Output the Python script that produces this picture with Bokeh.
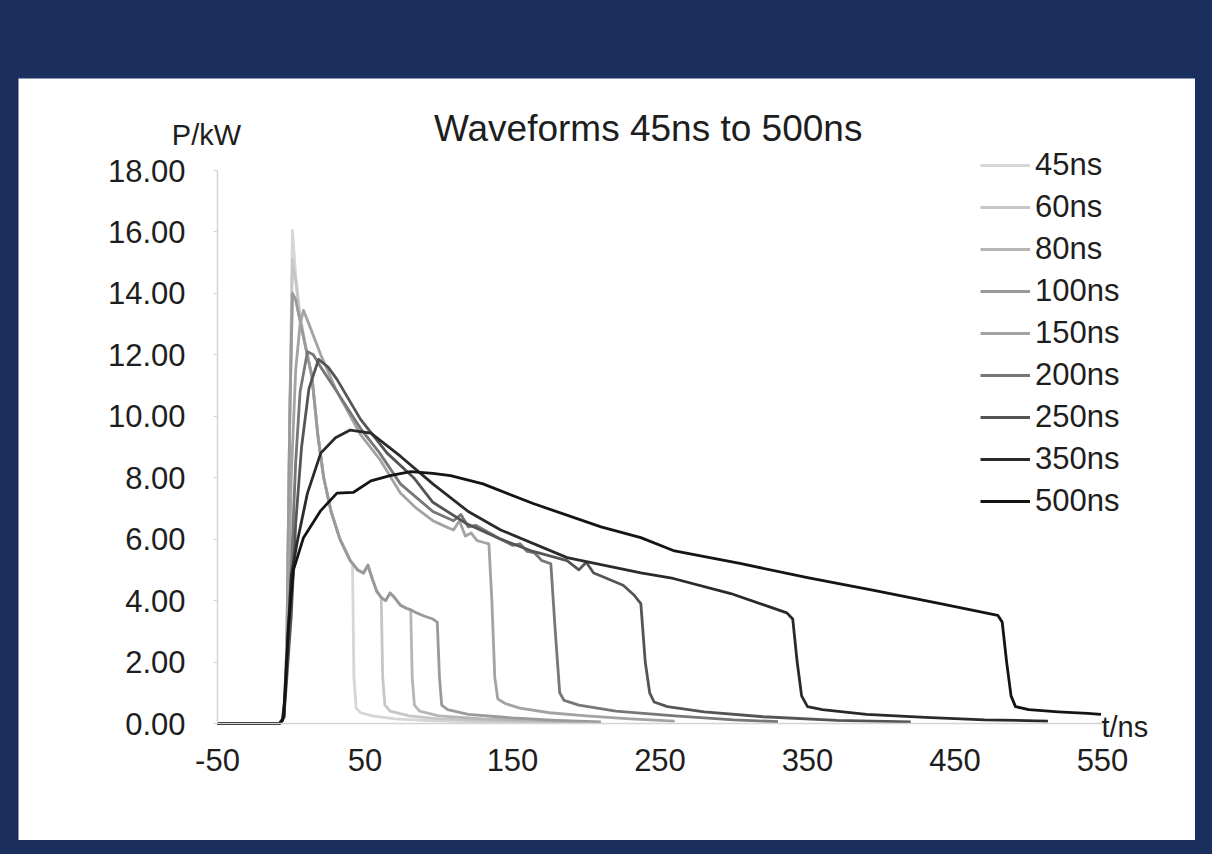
from bokeh.plotting import figure
from bokeh.models import FixedTicker, NumeralTickFormatter, Label, Range1d
from bokeh.layouts import column
from bokeh.embed import file_html
from bokeh.resources import INLINE

# ---------------- data ----------------
series_names = ["45ns", "60ns", "80ns", "100ns", "150ns", "200ns", "250ns", "350ns", "500ns"]

t_45 = [-50, -8, -5, -3, -1, 0.8, 3, 6, 10, 14, 18, 22, 27, 33, 40, 41.5, 42.5, 44, 47, 55, 70, 90, 120, 150]
p_45 = [0, 0, 0.2, 2.5, 10, 16.05, 14.6, 13.3, 12.2, 11.3, 9.4, 8.0, 6.9, 6.0, 5.3, 5.2, 1.5, 0.5, 0.35, 0.25, 0.15, 0.1, 0.05, 0.03]

t_60 = [-50, -8, -5, -3, -1, 0.8, 3, 6, 10, 14, 18, 22, 27, 33, 40, 45, 49, 52, 55, 58, 61, 62, 63.5, 67, 80, 100, 140, 180]
p_60 = [0, 0, 0.2, 2.5, 10, 15.1, 14.4, 13.2, 12.2, 11.3, 9.4, 8.0, 6.9, 6.0, 5.3, 5.0, 4.9, 5.15, 4.7, 4.3, 4.1, 1.5, 0.6, 0.4, 0.25, 0.15, 0.08, 0.04]

t_80 = [-50, -8, -5, -3, -1, 0.8, 3, 6, 10, 14, 18, 22, 27, 33, 40, 45, 49, 52, 55, 58, 61, 64, 67, 70, 74, 78, 81, 82, 83.5, 87, 100, 130, 170, 200]
p_80 = [0, 0, 0.2, 2.5, 10, 14.0, 13.8, 13.1, 12.2, 11.3, 9.4, 8.0, 6.9, 6.0, 5.3, 5.0, 4.9, 5.15, 4.7, 4.3, 4.1, 4.0, 4.25, 4.1, 3.85, 3.75, 3.7, 1.5, 0.6, 0.4, 0.25, 0.15, 0.08, 0.04]

t_100 = [-50, -8, -5, -3, -1, 0.8, 3, 6, 10, 14, 18, 22, 27, 33, 40, 45, 49, 52, 55, 58, 61, 64, 67, 70, 74, 78, 81, 85, 90, 96, 99, 100.5, 102, 106, 120, 150, 180, 210]
p_100 = [0, 0, 0.2, 2.5, 10, 14.0, 13.8, 13.1, 12.2, 11.3, 9.4, 8.0, 6.9, 6.0, 5.3, 5.0, 4.9, 5.15, 4.7, 4.3, 4.1, 4.0, 4.25, 4.1, 3.85, 3.75, 3.7, 3.6, 3.5, 3.4, 3.3, 1.5, 0.6, 0.45, 0.3, 0.18, 0.1, 0.05]

t_150 = [-50, -8, -5, -3, 0, 3, 6, 8.3, 12, 20, 31, 47, 60, 74, 85, 96, 105, 110, 114, 118, 122, 126, 130, 134, 136, 138, 140, 145, 155, 175, 200, 230, 260]
p_150 = [0, 0, 0.2, 2, 8, 11.5, 13.0, 13.45, 13.0, 12.0, 10.8, 9.4, 8.6, 7.5, 7.0, 6.6, 6.4, 6.3, 6.6, 6.1, 6.2, 5.95, 5.9, 5.85, 4.0, 1.5, 0.8, 0.65, 0.5, 0.35, 0.25, 0.15, 0.08]

t_200 = [-50, -8, -5, -3, 0, 3, 6, 11, 15, 20, 31, 47, 60, 74, 96, 110, 115, 120, 125, 142, 150, 155, 160, 165, 170, 176, 179, 182, 185, 195, 220, 260, 300, 330]
p_200 = [0, 0, 0.2, 2, 5, 8.5, 10.8, 12.1, 12.0, 11.6, 10.8, 9.6, 8.8, 7.8, 6.9, 6.6, 6.8, 6.4, 6.45, 6.0, 5.8, 5.85, 5.6, 5.55, 5.3, 5.2, 3.0, 1.0, 0.75, 0.6, 0.4, 0.25, 0.12, 0.06]

t_250 = [-50, -8, -5, -3, 0, 3, 7, 12, 18.5, 25, 31, 47, 65, 83, 96, 119, 142, 164, 187, 195, 200, 205, 210, 225, 232, 237, 240, 243, 246, 255, 280, 320, 370, 420]
p_250 = [0, 0, 0.2, 1.5, 3.5, 6.5, 9.0, 10.9, 11.85, 11.6, 11.2, 9.9, 8.8, 8.0, 7.2, 6.5, 6.0, 5.6, 5.3, 5.0, 5.25, 4.9, 4.8, 4.5, 4.2, 3.9, 2.0, 1.0, 0.7, 0.55, 0.38, 0.22, 0.1, 0.05]

t_350 = [-50, -8, -6, -4, -2, 0, 4, 11, 20, 30, 40, 54, 74, 96, 120, 142, 187, 237, 259, 298, 336, 340, 343, 346, 350, 360, 390, 430, 470, 513]
p_350 = [0, 0, 0.1, 1.0, 3.0, 4.8, 5.9, 7.5, 8.8, 9.3, 9.55, 9.45, 8.7, 7.8, 6.9, 6.3, 5.4, 4.9, 4.72, 4.23, 3.6, 3.4, 2.0, 0.9, 0.55, 0.45, 0.3, 0.2, 0.12, 0.08]

t_500 = [-50, -8, -6, -5, -2, 1.5, 8.3, 20, 31, 42, 54, 67, 81, 96, 108, 130, 164, 210, 237, 259, 305, 350, 395, 440, 479, 482, 485, 488, 491, 500, 520, 540, 549]
p_500 = [0, 0, 0.1, 0.3, 3.1, 5.0, 6.05, 6.93, 7.5, 7.52, 7.9, 8.07, 8.2, 8.14, 8.07, 7.8, 7.16, 6.4, 6.05, 5.63, 5.2, 4.75, 4.33, 3.9, 3.52, 3.3, 2.0, 0.9, 0.55, 0.45, 0.38, 0.33, 0.3]

x_ticks = [-50, 50, 150, 250, 350, 450, 550]
y_ticks = [0, 2, 4, 6, 8, 10, 12, 14, 16, 18]

title_text = "Waveforms 45ns to 500ns"
y_label_text = "P/kW"
x_label_text = "t/ns"

series_t = [t_45, t_60, t_80, t_100, t_150, t_200, t_250, t_350, t_500]
series_p = [p_45, p_60, p_80, p_100, p_150, p_200, p_250, p_350, p_500]
series_colors = ["#d6d6d6", "#c6c6c6", "#b6b6b6", "#9a9a9a", "#a3a3a3",
                 "#777777", "#555555", "#2a2a2a", "#141414"]

# ---------------- layout geometry (page pixels) ----------------
FONT = "Liberation Sans"
NAVY = "#1b2f5e"
PANEL_L, PANEL_T, PANEL_R, PANEL_B = 18, 78, 1195, 840   # white panel = plot frame
AX_X0, AX_X1 = 217, 1102      # x = -50 ... 550
AX_Y0, AX_Y1 = 723, 170       # y = 0 ... 18

px_t = (AX_X1 - AX_X0) / (x_ticks[-1] - x_ticks[0])
px_p = (AX_Y0 - AX_Y1) / (y_ticks[-1] - y_ticks[0])
x_start = x_ticks[0] - (AX_X0 - PANEL_L) / px_t
x_end = x_ticks[-1] + (PANEL_R - AX_X1) / px_t
y_start = y_ticks[0] - (PANEL_B - AX_Y0) / px_p
y_end = y_ticks[-1] + (AX_Y1 - PANEL_T) / px_p

p = figure(width=PANEL_R - PANEL_L, height=PANEL_B - PANEL_T,
           output_backend="svg", toolbar_location=None,
           x_range=Range1d(x_start, x_end), y_range=Range1d(y_start, y_end),
           min_border_left=0, min_border_right=0, min_border_top=0, min_border_bottom=0,
           background_fill_color="white", border_fill_color="white")
p.outline_line_color = None
p.xgrid.visible = False
p.ygrid.visible = False
p.margin = (PANEL_T, 1212 - PANEL_R, 854 - PANEL_B, PANEL_L)

for name, tt, pp, c in zip(series_names, series_t, series_p, series_colors):
    p.line(tt, pp, line_color=c, line_width=2.8, legend_label=name, line_join="round")

# axes (drawn at fixed data locations inside the frame)
p.xaxis.ticker = FixedTicker(ticks=x_ticks)
p.yaxis.ticker = FixedTicker(ticks=y_ticks)
p.xaxis.formatter = NumeralTickFormatter(format="0")
p.yaxis.formatter = NumeralTickFormatter(format="0.00")
p.xaxis.fixed_location = 0
p.yaxis.fixed_location = x_ticks[0]
p.xaxis.bounds = (x_ticks[0], x_ticks[-1])
p.yaxis.bounds = (y_ticks[0], y_ticks[-1])
for ax in (p.xaxis[0], p.yaxis[0]):
    ax.axis_line_color = "#d4d4d4"
    ax.axis_line_width = 1.5
    ax.major_tick_line_color = "#d4d4d4"
    ax.minor_tick_line_color = None
    ax.major_label_text_font = FONT
    ax.major_label_text_font_size = "31px"
    ax.major_label_text_color = "#1e1e1e"
p.xaxis.major_tick_out = 0
p.xaxis.major_tick_in = 0
p.xaxis.major_label_standoff = 25
p.yaxis.major_tick_out = 4
p.yaxis.major_tick_in = 0
p.yaxis.major_label_standoff = 28

# texts
p.add_layout(Label(x=242, y=19.37, text=title_text, text_align="center", text_baseline="middle",
                   text_font=FONT, text_font_size="37px", text_color="#1e1e1e"))
p.add_layout(Label(x=-57.5, y=19.14, text=y_label_text, text_align="center", text_baseline="middle",
                   text_font=FONT, text_font_size="29px", text_color="#1e1e1e"))
p.add_layout(Label(x=549.3, y=-0.13, text=x_label_text, text_align="left", text_baseline="middle",
                   text_font=FONT, text_font_size="29px", text_color="#1e1e1e"))

# legend
lg = p.legend[0]
lg.location = (980 - PANEL_L, PANEL_B - 522)
lg.padding = 0
lg.spacing = 0
lg.margin = 0
lg.glyph_width = 50
lg.glyph_height = 42
lg.label_height = 42
lg.label_standoff = 5
lg.border_line_color = None
lg.background_fill_alpha = 0
lg.label_text_font = FONT
lg.label_text_font_size = "31px"
lg.label_text_color = "#1e1e1e"

layout = column(p, styles={"background-color": NAVY})

open("out.html", "w").write(file_html(layout, INLINE))
